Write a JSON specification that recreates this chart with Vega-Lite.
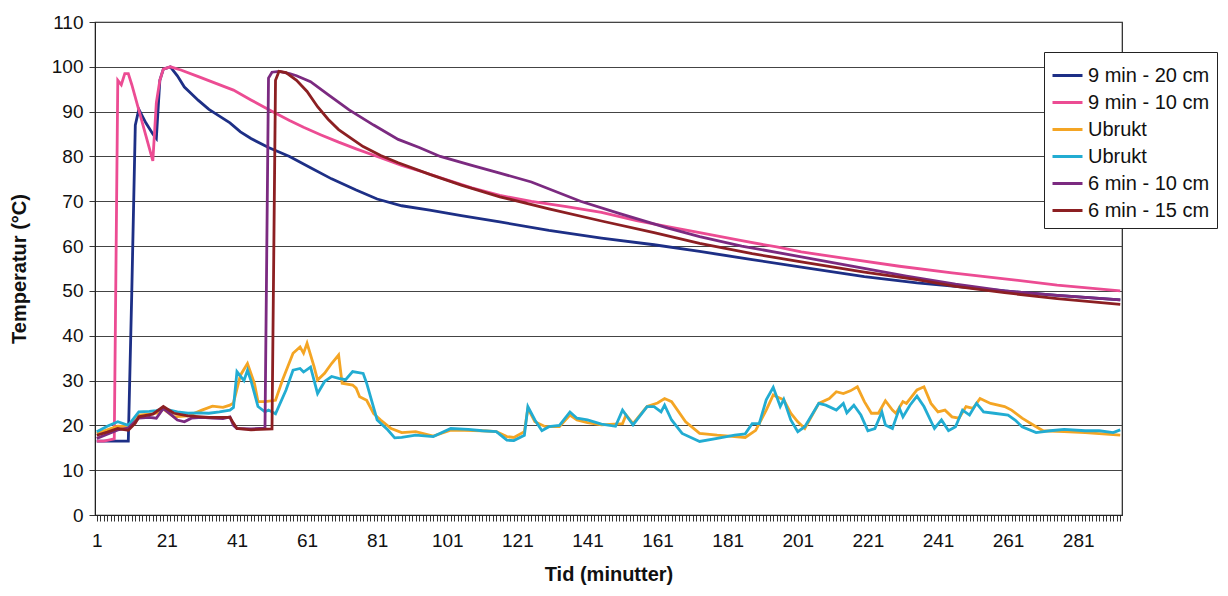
{
"$schema": "https://vega.github.io/schema/vega-lite/v6.json",
"width": 1027, "height": 493,
"autosize": "none",
"padding": {"left": 95, "top": 22, "right": 106, "bottom": 81},
"background": "white",
"config": {"font": "Liberation Sans", "view": {"stroke": "#222", "strokeWidth": 1.2}},
"data": {"values": [
{"s":"9 min - 20 cm","t":1,"v":16.5},{"s":"9 min - 20 cm","t":5,"v":16.5},{"s":"9 min - 20 cm","t":10,"v":16.5},{"s":"9 min - 20 cm","t":11,"v":50},{"s":"9 min - 20 cm","t":12,"v":87},{"s":"9 min - 20 cm","t":13,"v":90.5},{"s":"9 min - 20 cm","t":15,"v":87.5},{"s":"9 min - 20 cm","t":17,"v":85},{"s":"9 min - 20 cm","t":18,"v":84},{"s":"9 min - 20 cm","t":19,"v":97},{"s":"9 min - 20 cm","t":20,"v":99.5},{"s":"9 min - 20 cm","t":22,"v":100},{"s":"9 min - 20 cm","t":24,"v":98},{"s":"9 min - 20 cm","t":26,"v":95.5},{"s":"9 min - 20 cm","t":28,"v":94},{"s":"9 min - 20 cm","t":30,"v":92.5},{"s":"9 min - 20 cm","t":33,"v":90.5},{"s":"9 min - 20 cm","t":36,"v":89},{"s":"9 min - 20 cm","t":39,"v":87.5},{"s":"9 min - 20 cm","t":42,"v":85.5},{"s":"9 min - 20 cm","t":45,"v":84},{"s":"9 min - 20 cm","t":50,"v":82},{"s":"9 min - 20 cm","t":56,"v":80},{"s":"9 min - 20 cm","t":62,"v":77.5},{"s":"9 min - 20 cm","t":68,"v":75},{"s":"9 min - 20 cm","t":75,"v":72.5},{"s":"9 min - 20 cm","t":81,"v":70.5},{"s":"9 min - 20 cm","t":88,"v":69},{"s":"9 min - 20 cm","t":96,"v":68},{"s":"9 min - 20 cm","t":105,"v":66.8},{"s":"9 min - 20 cm","t":116,"v":65.4},{"s":"9 min - 20 cm","t":130,"v":63.5},{"s":"9 min - 20 cm","t":145,"v":61.8},{"s":"9 min - 20 cm","t":160,"v":60.3},{"s":"9 min - 20 cm","t":173,"v":58.8},{"s":"9 min - 20 cm","t":188,"v":57},{"s":"9 min - 20 cm","t":202,"v":55.3},{"s":"9 min - 20 cm","t":220,"v":53.2},{"s":"9 min - 20 cm","t":235,"v":51.8},{"s":"9 min - 20 cm","t":246,"v":51},{"s":"9 min - 20 cm","t":260,"v":50},{"s":"9 min - 20 cm","t":275,"v":49},{"s":"9 min - 20 cm","t":293,"v":48},

{"s":"9 min - 10 cm","t":1,"v":16.5},{"s":"9 min - 10 cm","t":3,"v":16.5},{"s":"9 min - 10 cm","t":6,"v":17},{"s":"9 min - 10 cm","t":7,"v":97},{"s":"9 min - 10 cm","t":8,"v":96},{"s":"9 min - 10 cm","t":9,"v":98.5},{"s":"9 min - 10 cm","t":10,"v":98.5},{"s":"9 min - 10 cm","t":11,"v":96},{"s":"9 min - 10 cm","t":17,"v":79},{"s":"9 min - 10 cm","t":18,"v":92},{"s":"9 min - 10 cm","t":19,"v":97},{"s":"9 min - 10 cm","t":20,"v":99.5},{"s":"9 min - 10 cm","t":22,"v":100},{"s":"9 min - 10 cm","t":25,"v":99.3},{"s":"9 min - 10 cm","t":30,"v":97.8},{"s":"9 min - 10 cm","t":35,"v":96.3},{"s":"9 min - 10 cm","t":40,"v":94.8},{"s":"9 min - 10 cm","t":45,"v":92.6},{"s":"9 min - 10 cm","t":50,"v":90.5},{"s":"9 min - 10 cm","t":56,"v":88},{"s":"9 min - 10 cm","t":60,"v":86.5},{"s":"9 min - 10 cm","t":65,"v":84.8},{"s":"9 min - 10 cm","t":70,"v":83.2},{"s":"9 min - 10 cm","t":75,"v":81.7},{"s":"9 min - 10 cm","t":81,"v":80},{"s":"9 min - 10 cm","t":88,"v":78},{"s":"9 min - 10 cm","t":95,"v":76.3},{"s":"9 min - 10 cm","t":100,"v":75},{"s":"9 min - 10 cm","t":108,"v":73},{"s":"9 min - 10 cm","t":116,"v":71.3},{"s":"9 min - 10 cm","t":125,"v":70},{"s":"9 min - 10 cm","t":135,"v":68.8},{"s":"9 min - 10 cm","t":145,"v":67.5},{"s":"9 min - 10 cm","t":155,"v":65.7},{"s":"9 min - 10 cm","t":165,"v":64.2},{"s":"9 min - 10 cm","t":173,"v":63},{"s":"9 min - 10 cm","t":185,"v":61.2},{"s":"9 min - 10 cm","t":195,"v":59.8},{"s":"9 min - 10 cm","t":202,"v":58.7},{"s":"9 min - 10 cm","t":215,"v":57.2},{"s":"9 min - 10 cm","t":230,"v":55.5},{"s":"9 min - 10 cm","t":245,"v":54},{"s":"9 min - 10 cm","t":260,"v":52.7},{"s":"9 min - 10 cm","t":275,"v":51.3},{"s":"9 min - 10 cm","t":293,"v":50},

{"s":"Ubrukt 1","t":1,"v":18.2},{"s":"Ubrukt 1","t":4,"v":19},{"s":"Ubrukt 1","t":7,"v":19.8},{"s":"Ubrukt 1","t":10,"v":19.7},{"s":"Ubrukt 1","t":13,"v":22.3},{"s":"Ubrukt 1","t":16,"v":22.5},{"s":"Ubrukt 1","t":18,"v":22.7},{"s":"Ubrukt 1","t":20,"v":23.6},{"s":"Ubrukt 1","t":23,"v":21.9},{"s":"Ubrukt 1","t":27,"v":22.1},{"s":"Ubrukt 1","t":31,"v":23.4},{"s":"Ubrukt 1","t":34,"v":24.3},{"s":"Ubrukt 1","t":37,"v":24},{"s":"Ubrukt 1","t":39,"v":24.5},{"s":"Ubrukt 1","t":40,"v":25},{"s":"Ubrukt 1","t":42,"v":31.2},{"s":"Ubrukt 1","t":44,"v":33.8},{"s":"Ubrukt 1","t":46,"v":29.3},{"s":"Ubrukt 1","t":47,"v":25.3},{"s":"Ubrukt 1","t":49,"v":25.3},{"s":"Ubrukt 1","t":52,"v":25.6},{"s":"Ubrukt 1","t":54,"v":30.1},{"s":"Ubrukt 1","t":57,"v":36.1},{"s":"Ubrukt 1","t":59,"v":37.5},{"s":"Ubrukt 1","t":60,"v":36.1},{"s":"Ubrukt 1","t":61,"v":38.3},{"s":"Ubrukt 1","t":63,"v":33.1},{"s":"Ubrukt 1","t":64,"v":30.1},{"s":"Ubrukt 1","t":66,"v":31.6},{"s":"Ubrukt 1","t":68,"v":33.8},{"s":"Ubrukt 1","t":70,"v":35.7},{"s":"Ubrukt 1","t":71,"v":29.4},{"s":"Ubrukt 1","t":74,"v":29},{"s":"Ubrukt 1","t":75,"v":28.3},{"s":"Ubrukt 1","t":76,"v":26.4},{"s":"Ubrukt 1","t":78,"v":25.6},{"s":"Ubrukt 1","t":80,"v":22.6},{"s":"Ubrukt 1","t":82,"v":21.2},{"s":"Ubrukt 1","t":85,"v":19.3},{"s":"Ubrukt 1","t":88,"v":18.4},{"s":"Ubrukt 1","t":92,"v":18.6},{"s":"Ubrukt 1","t":97,"v":17.6},{"s":"Ubrukt 1","t":102,"v":18.9},{"s":"Ubrukt 1","t":106,"v":18.9},{"s":"Ubrukt 1","t":111,"v":18.8},{"s":"Ubrukt 1","t":115,"v":18.6},{"s":"Ubrukt 1","t":118,"v":17.5},{"s":"Ubrukt 1","t":120,"v":17.3},{"s":"Ubrukt 1","t":123,"v":18.6},{"s":"Ubrukt 1","t":124,"v":23.8},{"s":"Ubrukt 1","t":126,"v":20.8},{"s":"Ubrukt 1","t":129,"v":19.7},{"s":"Ubrukt 1","t":133,"v":19.7},{"s":"Ubrukt 1","t":136,"v":22.3},{"s":"Ubrukt 1","t":138,"v":21.2},{"s":"Ubrukt 1","t":141,"v":20.6},{"s":"Ubrukt 1","t":145,"v":20.1},{"s":"Ubrukt 1","t":151,"v":20.4},{"s":"Ubrukt 1","t":152,"v":22.3},{"s":"Ubrukt 1","t":154,"v":20.4},{"s":"Ubrukt 1","t":158,"v":24.2},{"s":"Ubrukt 1","t":161,"v":25},{"s":"Ubrukt 1","t":163,"v":26},{"s":"Ubrukt 1","t":165,"v":25.3},{"s":"Ubrukt 1","t":169,"v":20.8},{"s":"Ubrukt 1","t":173,"v":18.2},{"s":"Ubrukt 1","t":178,"v":17.8},{"s":"Ubrukt 1","t":183,"v":17.5},{"s":"Ubrukt 1","t":186,"v":17.3},{"s":"Ubrukt 1","t":189,"v":18.9},{"s":"Ubrukt 1","t":192,"v":23.4},{"s":"Ubrukt 1","t":194,"v":26.8},{"s":"Ubrukt 1","t":195,"v":26.4},{"s":"Ubrukt 1","t":197,"v":25.7},{"s":"Ubrukt 1","t":199,"v":22.7},{"s":"Ubrukt 1","t":201,"v":20.8},{"s":"Ubrukt 1","t":203,"v":19.3},{"s":"Ubrukt 1","t":207,"v":24.9},{"s":"Ubrukt 1","t":210,"v":26},{"s":"Ubrukt 1","t":212,"v":27.5},{"s":"Ubrukt 1","t":214,"v":27.1},{"s":"Ubrukt 1","t":216,"v":27.7},{"s":"Ubrukt 1","t":218,"v":28.6},{"s":"Ubrukt 1","t":220,"v":25.3},{"s":"Ubrukt 1","t":222,"v":22.7},{"s":"Ubrukt 1","t":224,"v":22.7},{"s":"Ubrukt 1","t":226,"v":25.5},{"s":"Ubrukt 1","t":228,"v":23.4},{"s":"Ubrukt 1","t":229,"v":22.7},{"s":"Ubrukt 1","t":231,"v":25.3},{"s":"Ubrukt 1","t":232,"v":24.9},{"s":"Ubrukt 1","t":235,"v":27.9},{"s":"Ubrukt 1","t":237,"v":28.6},{"s":"Ubrukt 1","t":239,"v":24.9},{"s":"Ubrukt 1","t":241,"v":23},{"s":"Ubrukt 1","t":243,"v":23.4},{"s":"Ubrukt 1","t":245,"v":21.9},{"s":"Ubrukt 1","t":247,"v":21.6},{"s":"Ubrukt 1","t":249,"v":24.2},{"s":"Ubrukt 1","t":251,"v":23.8},{"s":"Ubrukt 1","t":253,"v":26},{"s":"Ubrukt 1","t":256,"v":24.9},{"s":"Ubrukt 1","t":260,"v":24.2},{"s":"Ubrukt 1","t":262,"v":23.4},{"s":"Ubrukt 1","t":265,"v":21.6},{"s":"Ubrukt 1","t":269,"v":19.7},{"s":"Ubrukt 1","t":271,"v":18.8},{"s":"Ubrukt 1","t":277,"v":18.6},{"s":"Ubrukt 1","t":283,"v":18.4},{"s":"Ubrukt 1","t":288,"v":18.1},{"s":"Ubrukt 1","t":293,"v":17.8},

{"s":"Ubrukt 2","t":1,"v":18.6},{"s":"Ubrukt 2","t":4,"v":19.8},{"s":"Ubrukt 2","t":7,"v":20.8},{"s":"Ubrukt 2","t":10,"v":20},{"s":"Ubrukt 2","t":13,"v":23},{"s":"Ubrukt 2","t":16,"v":23.1},{"s":"Ubrukt 2","t":18,"v":23.3},{"s":"Ubrukt 2","t":20,"v":23.7},{"s":"Ubrukt 2","t":24,"v":23},{"s":"Ubrukt 2","t":27,"v":22.7},{"s":"Ubrukt 2","t":30,"v":22.8},{"s":"Ubrukt 2","t":33,"v":22.7},{"s":"Ubrukt 2","t":36,"v":23},{"s":"Ubrukt 2","t":39,"v":23.4},{"s":"Ubrukt 2","t":40,"v":24},{"s":"Ubrukt 2","t":41,"v":32},{"s":"Ubrukt 2","t":43,"v":30},{"s":"Ubrukt 2","t":44,"v":32.3},{"s":"Ubrukt 2","t":45,"v":30},{"s":"Ubrukt 2","t":47,"v":24.2},{"s":"Ubrukt 2","t":49,"v":23},{"s":"Ubrukt 2","t":50,"v":23.4},{"s":"Ubrukt 2","t":52,"v":22.6},{"s":"Ubrukt 2","t":55,"v":27.9},{"s":"Ubrukt 2","t":57,"v":32.3},{"s":"Ubrukt 2","t":59,"v":32.7},{"s":"Ubrukt 2","t":60,"v":31.9},{"s":"Ubrukt 2","t":62,"v":33},{"s":"Ubrukt 2","t":64,"v":27.1},{"s":"Ubrukt 2","t":66,"v":29.8},{"s":"Ubrukt 2","t":68,"v":30.9},{"s":"Ubrukt 2","t":70,"v":30.5},{"s":"Ubrukt 2","t":72,"v":30.2},{"s":"Ubrukt 2","t":74,"v":32},{"s":"Ubrukt 2","t":77,"v":31.6},{"s":"Ubrukt 2","t":78,"v":29.4},{"s":"Ubrukt 2","t":81,"v":21.2},{"s":"Ubrukt 2","t":84,"v":19},{"s":"Ubrukt 2","t":86,"v":17.2},{"s":"Ubrukt 2","t":88,"v":17.3},{"s":"Ubrukt 2","t":92,"v":17.8},{"s":"Ubrukt 2","t":97,"v":17.5},{"s":"Ubrukt 2","t":102,"v":19.3},{"s":"Ubrukt 2","t":107,"v":19.1},{"s":"Ubrukt 2","t":111,"v":18.8},{"s":"Ubrukt 2","t":115,"v":18.6},{"s":"Ubrukt 2","t":118,"v":16.7},{"s":"Ubrukt 2","t":120,"v":16.6},{"s":"Ubrukt 2","t":123,"v":17.8},{"s":"Ubrukt 2","t":124,"v":24.2},{"s":"Ubrukt 2","t":126,"v":21.2},{"s":"Ubrukt 2","t":128,"v":18.8},{"s":"Ubrukt 2","t":130,"v":19.7},{"s":"Ubrukt 2","t":133,"v":20},{"s":"Ubrukt 2","t":136,"v":23},{"s":"Ubrukt 2","t":138,"v":21.6},{"s":"Ubrukt 2","t":141,"v":21.2},{"s":"Ubrukt 2","t":145,"v":20.3},{"s":"Ubrukt 2","t":149,"v":19.8},{"s":"Ubrukt 2","t":151,"v":23.4},{"s":"Ubrukt 2","t":153,"v":21.2},{"s":"Ubrukt 2","t":154,"v":20.1},{"s":"Ubrukt 2","t":158,"v":24.2},{"s":"Ubrukt 2","t":160,"v":24.2},{"s":"Ubrukt 2","t":162,"v":23},{"s":"Ubrukt 2","t":163,"v":24.5},{"s":"Ubrukt 2","t":165,"v":21.2},{"s":"Ubrukt 2","t":168,"v":18.2},{"s":"Ubrukt 2","t":173,"v":16.4},{"s":"Ubrukt 2","t":178,"v":17.1},{"s":"Ubrukt 2","t":183,"v":17.8},{"s":"Ubrukt 2","t":186,"v":18.1},{"s":"Ubrukt 2","t":188,"v":20.4},{"s":"Ubrukt 2","t":190,"v":20.4},{"s":"Ubrukt 2","t":192,"v":25.7},{"s":"Ubrukt 2","t":194,"v":28.5},{"s":"Ubrukt 2","t":196,"v":24.2},{"s":"Ubrukt 2","t":197,"v":25.8},{"s":"Ubrukt 2","t":199,"v":21.2},{"s":"Ubrukt 2","t":201,"v":18.6},{"s":"Ubrukt 2","t":203,"v":19.7},{"s":"Ubrukt 2","t":207,"v":24.9},{"s":"Ubrukt 2","t":209,"v":24.5},{"s":"Ubrukt 2","t":212,"v":23.4},{"s":"Ubrukt 2","t":214,"v":24.9},{"s":"Ubrukt 2","t":215,"v":22.8},{"s":"Ubrukt 2","t":217,"v":24.5},{"s":"Ubrukt 2","t":219,"v":22.3},{"s":"Ubrukt 2","t":221,"v":18.8},{"s":"Ubrukt 2","t":223,"v":19.3},{"s":"Ubrukt 2","t":225,"v":23},{"s":"Ubrukt 2","t":226,"v":20.1},{"s":"Ubrukt 2","t":228,"v":19.3},{"s":"Ubrukt 2","t":230,"v":23.8},{"s":"Ubrukt 2","t":231,"v":21.9},{"s":"Ubrukt 2","t":233,"v":24.5},{"s":"Ubrukt 2","t":235,"v":26.5},{"s":"Ubrukt 2","t":237,"v":24.2},{"s":"Ubrukt 2","t":240,"v":19.3},{"s":"Ubrukt 2","t":242,"v":21.2},{"s":"Ubrukt 2","t":244,"v":18.8},{"s":"Ubrukt 2","t":246,"v":19.7},{"s":"Ubrukt 2","t":248,"v":23.4},{"s":"Ubrukt 2","t":250,"v":22.3},{"s":"Ubrukt 2","t":252,"v":24.9},{"s":"Ubrukt 2","t":254,"v":23},{"s":"Ubrukt 2","t":257,"v":22.7},{"s":"Ubrukt 2","t":261,"v":22.3},{"s":"Ubrukt 2","t":263,"v":21.2},{"s":"Ubrukt 2","t":265,"v":19.7},{"s":"Ubrukt 2","t":269,"v":18.4},{"s":"Ubrukt 2","t":273,"v":18.8},{"s":"Ubrukt 2","t":277,"v":19.1},{"s":"Ubrukt 2","t":283,"v":18.8},{"s":"Ubrukt 2","t":287,"v":18.8},{"s":"Ubrukt 2","t":291,"v":18.4},{"s":"Ubrukt 2","t":293,"v":19},

{"s":"6 min - 10 cm","t":1,"v":17.1},{"s":"6 min - 10 cm","t":4,"v":18},{"s":"6 min - 10 cm","t":7,"v":19},{"s":"6 min - 10 cm","t":10,"v":19.4},{"s":"6 min - 10 cm","t":13,"v":21.6},{"s":"6 min - 10 cm","t":16,"v":21.8},{"s":"6 min - 10 cm","t":18,"v":21.6},{"s":"6 min - 10 cm","t":20,"v":23.8},{"s":"6 min - 10 cm","t":22,"v":22.5},{"s":"6 min - 10 cm","t":24,"v":21.2},{"s":"6 min - 10 cm","t":26,"v":20.8},{"s":"6 min - 10 cm","t":28,"v":21.6},{"s":"6 min - 10 cm","t":31,"v":21.8},{"s":"6 min - 10 cm","t":34,"v":21.6},{"s":"6 min - 10 cm","t":37,"v":21.5},{"s":"6 min - 10 cm","t":39,"v":21.9},{"s":"6 min - 10 cm","t":40,"v":20},{"s":"6 min - 10 cm","t":41,"v":19.3},{"s":"6 min - 10 cm","t":45,"v":19.2},{"s":"6 min - 10 cm","t":49,"v":19.4},{"s":"6 min - 10 cm","t":50,"v":97.5},{"s":"6 min - 10 cm","t":51,"v":98.8},{"s":"6 min - 10 cm","t":53,"v":99},{"s":"6 min - 10 cm","t":56,"v":98.5},{"s":"6 min - 10 cm","t":58,"v":98},{"s":"6 min - 10 cm","t":62,"v":96.7},{"s":"6 min - 10 cm","t":67,"v":93.8},{"s":"6 min - 10 cm","t":73,"v":90.4},{"s":"6 min - 10 cm","t":80,"v":87},{"s":"6 min - 10 cm","t":87,"v":83.8},{"s":"6 min - 10 cm","t":93,"v":82},{"s":"6 min - 10 cm","t":99,"v":80},{"s":"6 min - 10 cm","t":108,"v":78},{"s":"6 min - 10 cm","t":116,"v":76.3},{"s":"6 min - 10 cm","t":125,"v":74.3},{"s":"6 min - 10 cm","t":139,"v":70},{"s":"6 min - 10 cm","t":150,"v":67.3},{"s":"6 min - 10 cm","t":164,"v":64},{"s":"6 min - 10 cm","t":173,"v":62.1},{"s":"6 min - 10 cm","t":185,"v":60},{"s":"6 min - 10 cm","t":202,"v":57.6},{"s":"6 min - 10 cm","t":218,"v":55.3},{"s":"6 min - 10 cm","t":232,"v":53.3},{"s":"6 min - 10 cm","t":246,"v":51.5},{"s":"6 min - 10 cm","t":260,"v":50},{"s":"6 min - 10 cm","t":275,"v":49},{"s":"6 min - 10 cm","t":293,"v":48},

{"s":"6 min - 15 cm","t":1,"v":17.8},{"s":"6 min - 15 cm","t":4,"v":18.5},{"s":"6 min - 15 cm","t":7,"v":19.3},{"s":"6 min - 15 cm","t":10,"v":18.9},{"s":"6 min - 15 cm","t":12,"v":20.5},{"s":"6 min - 15 cm","t":13,"v":21.9},{"s":"6 min - 15 cm","t":17,"v":22.5},{"s":"6 min - 15 cm","t":20,"v":24.2},{"s":"6 min - 15 cm","t":23,"v":22.7},{"s":"6 min - 15 cm","t":27,"v":22.1},{"s":"6 min - 15 cm","t":33,"v":21.8},{"s":"6 min - 15 cm","t":39,"v":21.8},{"s":"6 min - 15 cm","t":40,"v":20.5},{"s":"6 min - 15 cm","t":41,"v":19.3},{"s":"6 min - 15 cm","t":45,"v":19},{"s":"6 min - 15 cm","t":51,"v":19.2},{"s":"6 min - 15 cm","t":52,"v":97},{"s":"6 min - 15 cm","t":53,"v":99},{"s":"6 min - 15 cm","t":55,"v":98.7},{"s":"6 min - 15 cm","t":58,"v":97},{"s":"6 min - 15 cm","t":61,"v":94.5},{"s":"6 min - 15 cm","t":64,"v":91.1},{"s":"6 min - 15 cm","t":67,"v":88.3},{"s":"6 min - 15 cm","t":70,"v":86},{"s":"6 min - 15 cm","t":74,"v":83.8},{"s":"6 min - 15 cm","t":77,"v":82.2},{"s":"6 min - 15 cm","t":82,"v":80.2},{"s":"6 min - 15 cm","t":87,"v":78.6},{"s":"6 min - 15 cm","t":96,"v":76},{"s":"6 min - 15 cm","t":105,"v":73.6},{"s":"6 min - 15 cm","t":116,"v":71},{"s":"6 min - 15 cm","t":130,"v":68.3},{"s":"6 min - 15 cm","t":145,"v":65.6},{"s":"6 min - 15 cm","t":160,"v":63},{"s":"6 min - 15 cm","t":173,"v":60.6},{"s":"6 min - 15 cm","t":188,"v":58.3},{"s":"6 min - 15 cm","t":202,"v":56.5},{"s":"6 min - 15 cm","t":220,"v":54.2},{"s":"6 min - 15 cm","t":235,"v":52.5},{"s":"6 min - 15 cm","t":246,"v":51},{"s":"6 min - 15 cm","t":260,"v":49.6},{"s":"6 min - 15 cm","t":275,"v":48.3},{"s":"6 min - 15 cm","t":293,"v":47}
]},
"mark": {"type": "line", "strokeWidth": 2.8, "clip": true},
"encoding": {
  "x": {"field": "t", "type": "quantitative",
    "scale": {"domain": [0.5, 293.5], "nice": false, "zero": false},
    "axis": {"title": "Tid (minutter)", "tickCount": 293, "labelExpr": "(datum.value - 1) % 20 == 0 ? datum.label : ''", "labelOverlap": false, "labelFlush": false, "labelFontSize": 19, "labelColor": "#111", "tickSize": 6, "tickColor": "#333", "domainColor": "#222", "grid": false, "labelPadding": 10, "titleFontSize": 20, "titleFontWeight": "bold", "titleColor": "#111", "titlePadding": 14}},
  "y": {"field": "v", "type": "quantitative",
    "scale": {"domain": [0, 110], "nice": false},
    "axis": {"title": "Temperatur (°C)", "values": [0,10,20,30,40,50,60,70,80,90,100,110], "grid": true, "gridColor": "#444", "gridWidth": 1, "labelFontSize": 19, "labelColor": "#111", "tickSize": 6, "tickColor": "#333", "domainColor": "#222", "labelPadding": 6, "titleFontSize": 20, "titleFontWeight": "bold", "titleColor": "#111", "titlePadding": 22}},
  "color": {"field": "s", "type": "nominal",
    "scale": {"domain": ["9 min - 20 cm", "9 min - 10 cm", "Ubrukt 1", "Ubrukt 2", "6 min - 10 cm", "6 min - 15 cm"],
      "range": ["#1d2f86", "#ec4c93", "#f4a524", "#22acd2", "#7b2a80", "#8c1f22"]},
    "legend": {"title": null, "orient": "none", "legendX": 949, "legendY": 30, "fillColor": "white", "strokeColor": "#222", "padding": 7, "labelFontSize": 20, "labelColor": "#111", "labelLimit": 300, "labelOffset": 4, "symbolType": "stroke", "symbolStrokeWidth": 3, "symbolSize": 900, "rowPadding": 0,
      "labelExpr": "indexof(datum.label, 'Ubrukt') == 0 ? 'Ubrukt' : datum.label"}}
}
}
